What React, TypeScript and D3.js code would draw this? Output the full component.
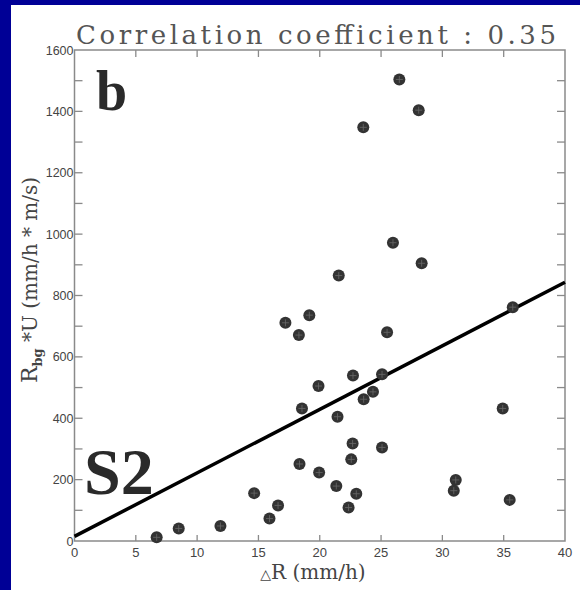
import React from "react";
import * as d3 from "d3";

const xTicks = [0, 5, 10, 15, 20, 25, 30, 35, 40];
const yTicks = [0, 200, 400, 600, 800, 1000, 1200, 1400, 1600];
const yMinor = [100, 300, 500, 700, 900, 1100, 1300, 1500];

const dR = [6.7, 8.5, 11.9, 14.65, 15.9, 16.6, 17.2, 18.3, 18.35, 18.55, 19.15, 19.9, 19.95, 21.35, 21.45, 21.55, 22.35, 22.57, 22.68, 22.71, 22.98, 23.55, 23.58, 24.34, 25.08, 25.08, 25.49, 25.97, 26.49, 28.07, 28.31, 30.93, 31.09, 34.92, 35.49, 35.74];
const rbgU = [12, 41, 49, 156, 73, 116, 711, 671, 251, 432, 736, 505, 223, 179, 405, 865, 109, 266, 318, 539, 154, 1348, 462, 486, 543, 305, 680, 972, 1504, 1404, 905, 164, 199, 432, 134, 762];

const fitX = [0, 40];
const fitY = [15, 843];

const title = "Correlation coefficient :  0.35";

export default function App() {
  const W = 580, H = 590;
  const x = d3.scaleLinear().domain([0, 40]).range([74.5, 565]);
  const y = d3.scaleLinear().domain([0, 1600]).range([541, 50]);
  const line = d3.line<number>().x((d, i) => x(fitX[i])).y((d, i) => y(fitY[i]));
  const axisColor = "#8a8a8a";
  const labelColor = "#444";
  return (
    <svg width={W} height={H} style={{ position: "absolute", left: 0, top: 0 }}>
      <rect x={0} y={0} width={W} height={H} fill="#000096" />
      <rect x={11} y={5} width={W - 11} height={H - 5} fill="#ffffff" />
      {/* title */}
      <text x={76} y={44} fontFamily="'DejaVu Serif', serif" fontSize={26} fill="#555" textLength={480} lengthAdjust="spacing" style={{ fontWeight: 200 }}>{title}</text>
      {/* frame */}
      <rect x={x(0)} y={y(1600)} width={x(40) - x(0)} height={y(0) - y(1600)} fill="none" stroke={axisColor} strokeWidth={1.5} />
      {/* x ticks */}
      {xTicks.slice(1, -1).map((t) => (
        <g key={"xt" + t}>
          <line x1={x(t)} x2={x(t)} y1={y(0)} y2={y(0) - 6} stroke={axisColor} strokeWidth={1.3} />
          <line x1={x(t)} x2={x(t)} y1={y(1600)} y2={y(1600) + 7} stroke={axisColor} strokeWidth={1.3} />
        </g>
      ))}
      {[...yTicks.slice(1, -1), ...yMinor].map((t) => (
        <g key={"yt" + t}>
          <line x1={x(0)} x2={x(0) + 8} y1={y(t)} y2={y(t)} stroke={axisColor} strokeWidth={1.3} />
          <line x1={x(40)} x2={x(40) - 8} y1={y(t)} y2={y(t)} stroke={axisColor} strokeWidth={1.3} />
        </g>
      ))}
      {/* tick labels */}
      {xTicks.map((t) => (
        <text key={"xl" + t} x={x(t)} y={557} textAnchor="middle" fontFamily="'Liberation Sans', Arial, sans-serif" fontSize={13} fill={labelColor}>{t}</text>
      ))}
      {yTicks.map((t) => (
        <text key={"yl" + t} x={x(0) - 1} y={y(t) + 4.5} textAnchor="end" fontFamily="'Liberation Sans', Arial, sans-serif" fontSize={12.5} fill={labelColor}>{t}</text>
      ))}
      {/* axis titles */}
      <text x={313} y={579} textAnchor="middle" fontFamily="'DejaVu Serif', serif" fontSize={20} fill="#444">
        <tspan fontSize={14} fontFamily="'DejaVu Sans', sans-serif">△</tspan>R (mm/h)
      </text>
      <text transform={`translate(37, 280) rotate(-90)`} textAnchor="middle" fontFamily="'DejaVu Serif', serif" fontSize={20} fill="#444">
        <tspan fontSize={22}>R</tspan><tspan fontSize={13} fontWeight="bold" dy={5}>bg</tspan><tspan dy={-5}> *U (mm/h * m/s)</tspan>
      </text>
      {/* regression line */}
      <path d={line(fitX) || ""} fill="none" stroke="#000" strokeWidth={3.5} />
      {/* points */}
      {dR.map((v, i) => {
        const cx = x(v), cy = y(rbgU[i]);
        return (
          <g key={"p" + i}>
            <circle cx={cx} cy={cy} r={6} fill="#333" />
            <line x1={cx - 3.5} x2={cx + 3.5} y1={cy} y2={cy} stroke="#6a6a6a" strokeWidth={0.8} />
            <line x1={cx} x2={cx} y1={cy - 3.5} y2={cy + 3.5} stroke="#6a6a6a" strokeWidth={0.8} />
          </g>
        );
      })}
      {/* panel labels */}
      <text x={96} y={110} fontFamily="'Liberation Serif', 'Times New Roman', serif" fontWeight="bold" fontSize={56} fill="#2a2a2a">b</text>
      <text x={84} y={494} fontFamily="'Liberation Serif', 'Times New Roman', serif" fontWeight="bold" fontSize={66} fill="#2a2a2a">S2</text>
    </svg>
  );
}
